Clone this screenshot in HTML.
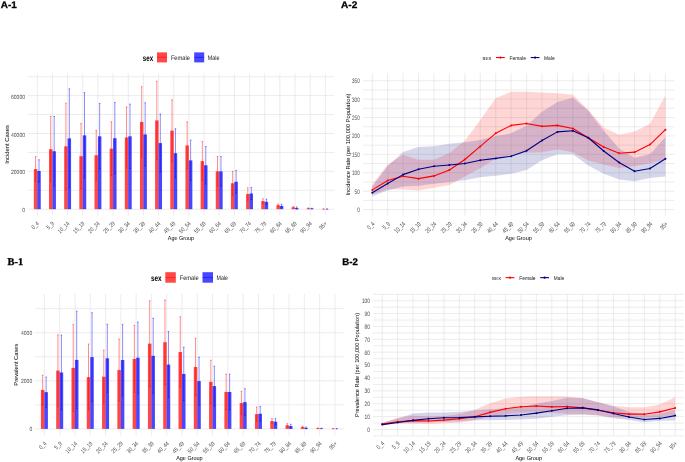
<!DOCTYPE html>
<html><head><meta charset="utf-8"><title>Figure</title>
<style>html,body{margin:0;padding:0;background:#fff;width:685px;height:462px;overflow:hidden}
svg{display:block;filter:blur(0.3px);font-family:"Liberation Sans",sans-serif}</style></head>
<body>
<svg width="685" height="462" viewBox="0 0 685 462" text-rendering="geometricPrecision">
<rect width="685" height="462" fill="#fff"/>
<line x1="27.9" y1="209.2" x2="334.2" y2="209.2" stroke="#E4E4E4" stroke-width="0.7"/>
<line x1="27.9" y1="190.27" x2="334.2" y2="190.27" stroke="#E4E4E4" stroke-width="0.7"/>
<line x1="27.9" y1="171.34" x2="334.2" y2="171.34" stroke="#E4E4E4" stroke-width="0.7"/>
<line x1="27.9" y1="152.41" x2="334.2" y2="152.41" stroke="#E4E4E4" stroke-width="0.7"/>
<line x1="27.9" y1="133.48" x2="334.2" y2="133.48" stroke="#E4E4E4" stroke-width="0.7"/>
<line x1="27.9" y1="114.55" x2="334.2" y2="114.55" stroke="#E4E4E4" stroke-width="0.7"/>
<line x1="27.9" y1="95.62" x2="334.2" y2="95.62" stroke="#E4E4E4" stroke-width="0.7"/>
<line x1="27.9" y1="76.69" x2="334.2" y2="76.69" stroke="#E4E4E4" stroke-width="0.7"/>
<line x1="37.3" y1="73.4" x2="37.3" y2="215.6" stroke="#E4E4E4" stroke-width="0.7"/>
<line x1="52.46" y1="73.4" x2="52.46" y2="215.6" stroke="#E4E4E4" stroke-width="0.7"/>
<line x1="67.62" y1="73.4" x2="67.62" y2="215.6" stroke="#E4E4E4" stroke-width="0.7"/>
<line x1="82.78" y1="73.4" x2="82.78" y2="215.6" stroke="#E4E4E4" stroke-width="0.7"/>
<line x1="97.94" y1="73.4" x2="97.94" y2="215.6" stroke="#E4E4E4" stroke-width="0.7"/>
<line x1="113.1" y1="73.4" x2="113.1" y2="215.6" stroke="#E4E4E4" stroke-width="0.7"/>
<line x1="128.26" y1="73.4" x2="128.26" y2="215.6" stroke="#E4E4E4" stroke-width="0.7"/>
<line x1="143.42" y1="73.4" x2="143.42" y2="215.6" stroke="#E4E4E4" stroke-width="0.7"/>
<line x1="158.58" y1="73.4" x2="158.58" y2="215.6" stroke="#E4E4E4" stroke-width="0.7"/>
<line x1="173.74" y1="73.4" x2="173.74" y2="215.6" stroke="#E4E4E4" stroke-width="0.7"/>
<line x1="188.9" y1="73.4" x2="188.9" y2="215.6" stroke="#E4E4E4" stroke-width="0.7"/>
<line x1="204.06" y1="73.4" x2="204.06" y2="215.6" stroke="#E4E4E4" stroke-width="0.7"/>
<line x1="219.22" y1="73.4" x2="219.22" y2="215.6" stroke="#E4E4E4" stroke-width="0.7"/>
<line x1="234.38" y1="73.4" x2="234.38" y2="215.6" stroke="#E4E4E4" stroke-width="0.7"/>
<line x1="249.54" y1="73.4" x2="249.54" y2="215.6" stroke="#E4E4E4" stroke-width="0.7"/>
<line x1="264.7" y1="73.4" x2="264.7" y2="215.6" stroke="#E4E4E4" stroke-width="0.7"/>
<line x1="279.86" y1="73.4" x2="279.86" y2="215.6" stroke="#E4E4E4" stroke-width="0.7"/>
<line x1="295.02" y1="73.4" x2="295.02" y2="215.6" stroke="#E4E4E4" stroke-width="0.7"/>
<line x1="310.18" y1="73.4" x2="310.18" y2="215.6" stroke="#E4E4E4" stroke-width="0.7"/>
<line x1="325.34" y1="73.4" x2="325.34" y2="215.6" stroke="#E4E4E4" stroke-width="0.7"/>
<rect x="33.85" y="169.07" width="3.45" height="40.13" fill="#FF0000" fill-opacity="0.72"/>
<rect x="37.3" y="170.96" width="3.45" height="38.24" fill="#0000FF" fill-opacity="0.72"/>
<rect x="49.01" y="149.19" width="3.45" height="60.01" fill="#FF0000" fill-opacity="0.72"/>
<rect x="52.46" y="151.27" width="3.45" height="57.93" fill="#0000FF" fill-opacity="0.72"/>
<rect x="64.17" y="146.35" width="3.45" height="62.85" fill="#FF0000" fill-opacity="0.72"/>
<rect x="67.62" y="138.4" width="3.45" height="70.8" fill="#0000FF" fill-opacity="0.72"/>
<rect x="79.33" y="156.2" width="3.45" height="53" fill="#FF0000" fill-opacity="0.72"/>
<rect x="82.78" y="135.37" width="3.45" height="73.83" fill="#0000FF" fill-opacity="0.72"/>
<rect x="94.49" y="155.25" width="3.45" height="53.95" fill="#FF0000" fill-opacity="0.72"/>
<rect x="97.94" y="136.32" width="3.45" height="72.88" fill="#0000FF" fill-opacity="0.72"/>
<rect x="109.65" y="148.62" width="3.45" height="60.58" fill="#FF0000" fill-opacity="0.72"/>
<rect x="113.1" y="138.21" width="3.45" height="70.99" fill="#0000FF" fill-opacity="0.72"/>
<rect x="124.81" y="137.46" width="3.45" height="71.74" fill="#FF0000" fill-opacity="0.72"/>
<rect x="128.26" y="136.32" width="3.45" height="72.88" fill="#0000FF" fill-opacity="0.72"/>
<rect x="139.97" y="121.93" width="3.45" height="87.27" fill="#FF0000" fill-opacity="0.72"/>
<rect x="143.42" y="134.43" width="3.45" height="74.77" fill="#0000FF" fill-opacity="0.72"/>
<rect x="155.13" y="120.42" width="3.45" height="88.78" fill="#FF0000" fill-opacity="0.72"/>
<rect x="158.58" y="143.13" width="3.45" height="66.07" fill="#0000FF" fill-opacity="0.72"/>
<rect x="170.29" y="130.64" width="3.45" height="78.56" fill="#FF0000" fill-opacity="0.72"/>
<rect x="173.74" y="153.17" width="3.45" height="56.03" fill="#0000FF" fill-opacity="0.72"/>
<rect x="185.45" y="145.41" width="3.45" height="63.79" fill="#FF0000" fill-opacity="0.72"/>
<rect x="188.9" y="160.36" width="3.45" height="48.84" fill="#0000FF" fill-opacity="0.72"/>
<rect x="200.61" y="161.12" width="3.45" height="48.08" fill="#FF0000" fill-opacity="0.72"/>
<rect x="204.06" y="165.28" width="3.45" height="43.92" fill="#0000FF" fill-opacity="0.72"/>
<rect x="215.77" y="171.34" width="3.45" height="37.86" fill="#FF0000" fill-opacity="0.72"/>
<rect x="219.22" y="171.34" width="3.45" height="37.86" fill="#0000FF" fill-opacity="0.72"/>
<rect x="230.93" y="183.27" width="3.45" height="25.93" fill="#FF0000" fill-opacity="0.72"/>
<rect x="234.38" y="181.75" width="3.45" height="27.45" fill="#0000FF" fill-opacity="0.72"/>
<rect x="246.09" y="194.06" width="3.45" height="15.14" fill="#FF0000" fill-opacity="0.72"/>
<rect x="249.54" y="193.49" width="3.45" height="15.71" fill="#0000FF" fill-opacity="0.72"/>
<rect x="261.25" y="201.06" width="3.45" height="8.14" fill="#FF0000" fill-opacity="0.72"/>
<rect x="264.7" y="201.82" width="3.45" height="7.38" fill="#0000FF" fill-opacity="0.72"/>
<rect x="276.41" y="205.22" width="3.45" height="3.98" fill="#FF0000" fill-opacity="0.72"/>
<rect x="279.86" y="205.98" width="3.45" height="3.22" fill="#0000FF" fill-opacity="0.72"/>
<rect x="291.57" y="207.31" width="3.45" height="1.89" fill="#FF0000" fill-opacity="0.72"/>
<rect x="295.02" y="208.06" width="3.45" height="1.14" fill="#0000FF" fill-opacity="0.72"/>
<rect x="306.73" y="208.35" width="3.45" height="0.85" fill="#FF0000" fill-opacity="0.72"/>
<rect x="310.18" y="208.54" width="3.45" height="0.66" fill="#0000FF" fill-opacity="0.72"/>
<rect x="321.89" y="209.01" width="3.45" height="0.19" fill="#FF0000" fill-opacity="0.72"/>
<rect x="325.34" y="209.05" width="3.45" height="0.15" fill="#0000FF" fill-opacity="0.72"/>
<g stroke="#FF0000" stroke-opacity="0.75" stroke-width="0.6" fill="none"><path d="M35.57 156.57V181.56M34.77 156.57H36.37M34.77 181.56H36.37"/></g>
<g stroke="#0000FF" stroke-opacity="0.75" stroke-width="0.6" fill="none"><path d="M39.02 159.79V182.13M38.23 159.79H39.82M38.23 182.13H39.82"/></g>
<g stroke="#FF0000" stroke-opacity="0.75" stroke-width="0.6" fill="none"><path d="M50.73 116.44V181.94M49.93 116.44H51.53M49.93 181.94H51.53"/></g>
<g stroke="#0000FF" stroke-opacity="0.75" stroke-width="0.6" fill="none"><path d="M54.18 116.44V186.11M53.38 116.44H54.98M53.38 186.11H54.98"/></g>
<g stroke="#FF0000" stroke-opacity="0.75" stroke-width="0.6" fill="none"><path d="M65.9 103.19V189.51M65.1 103.19H66.7M65.1 189.51H66.7"/></g>
<g stroke="#0000FF" stroke-opacity="0.75" stroke-width="0.6" fill="none"><path d="M69.34 88.81V188M68.55 88.81H70.14M68.55 188H70.14"/></g>
<g stroke="#FF0000" stroke-opacity="0.75" stroke-width="0.6" fill="none"><path d="M81.06 123.64V188.76M80.26 123.64H81.86M80.26 188.76H81.86"/></g>
<g stroke="#0000FF" stroke-opacity="0.75" stroke-width="0.6" fill="none"><path d="M84.5 92.59V178.15M83.7 92.59H85.3M83.7 178.15H85.3"/></g>
<g stroke="#FF0000" stroke-opacity="0.75" stroke-width="0.6" fill="none"><path d="M96.22 130.45V180.05M95.42 130.45H97.02M95.42 180.05H97.02"/></g>
<g stroke="#0000FF" stroke-opacity="0.75" stroke-width="0.6" fill="none"><path d="M99.66 103.57V169.07M98.86 103.57H100.46M98.86 169.07H100.46"/></g>
<g stroke="#FF0000" stroke-opacity="0.75" stroke-width="0.6" fill="none"><path d="M111.38 121.74V175.5M110.58 121.74H112.17M110.58 175.5H112.17"/></g>
<g stroke="#0000FF" stroke-opacity="0.75" stroke-width="0.6" fill="none"><path d="M114.82 102.43V173.99M114.02 102.43H115.62M114.02 173.99H115.62"/></g>
<g stroke="#FF0000" stroke-opacity="0.75" stroke-width="0.6" fill="none"><path d="M126.53 106.98V167.93M125.73 106.98H127.33M125.73 167.93H127.33"/></g>
<g stroke="#0000FF" stroke-opacity="0.75" stroke-width="0.6" fill="none"><path d="M129.98 104.14V168.5M129.18 104.14H130.78M129.18 168.5H130.78"/></g>
<g stroke="#FF0000" stroke-opacity="0.75" stroke-width="0.6" fill="none"><path d="M141.7 86.72V157.14M140.9 86.72H142.5M140.9 157.14H142.5"/></g>
<g stroke="#0000FF" stroke-opacity="0.75" stroke-width="0.6" fill="none"><path d="M145.15 102.81V166.04M144.34 102.81H145.95M144.34 166.04H145.95"/></g>
<g stroke="#FF0000" stroke-opacity="0.75" stroke-width="0.6" fill="none"><path d="M156.85 81.23V159.6M156.05 81.23H157.66M156.05 159.6H157.66"/></g>
<g stroke="#0000FF" stroke-opacity="0.75" stroke-width="0.6" fill="none"><path d="M160.3 113.98V172.29M159.5 113.98H161.1M159.5 172.29H161.1"/></g>
<g stroke="#FF0000" stroke-opacity="0.75" stroke-width="0.6" fill="none"><path d="M172.02 99.78V161.5M171.22 99.78H172.82M171.22 161.5H172.82"/></g>
<g stroke="#0000FF" stroke-opacity="0.75" stroke-width="0.6" fill="none"><path d="M175.47 128.75V177.59M174.66 128.75H176.27M174.66 177.59H176.27"/></g>
<g stroke="#FF0000" stroke-opacity="0.75" stroke-width="0.6" fill="none"><path d="M187.17 121.93V168.88M186.37 121.93H187.97M186.37 168.88H187.97"/></g>
<g stroke="#0000FF" stroke-opacity="0.75" stroke-width="0.6" fill="none"><path d="M190.62 140.11V180.62M189.82 140.11H191.42M189.82 180.62H191.42"/></g>
<g stroke="#FF0000" stroke-opacity="0.75" stroke-width="0.6" fill="none"><path d="M202.34 141.62V180.62M201.53 141.62H203.14M201.53 180.62H203.14"/></g>
<g stroke="#0000FF" stroke-opacity="0.75" stroke-width="0.6" fill="none"><path d="M205.78 146.54V184.02M204.98 146.54H206.59M204.98 184.02H206.59"/></g>
<g stroke="#FF0000" stroke-opacity="0.75" stroke-width="0.6" fill="none"><path d="M217.5 156.57V186.11M216.7 156.57H218.3M216.7 186.11H218.3"/></g>
<g stroke="#0000FF" stroke-opacity="0.75" stroke-width="0.6" fill="none"><path d="M220.95 156.57V186.11M220.15 156.57H221.75M220.15 186.11H221.75"/></g>
<g stroke="#FF0000" stroke-opacity="0.75" stroke-width="0.6" fill="none"><path d="M232.66 171.34V195.19M231.85 171.34H233.46M231.85 195.19H233.46"/></g>
<g stroke="#0000FF" stroke-opacity="0.75" stroke-width="0.6" fill="none"><path d="M236.1 170.39V193.11M235.3 170.39H236.91M235.3 193.11H236.91"/></g>
<g stroke="#FF0000" stroke-opacity="0.75" stroke-width="0.6" fill="none"><path d="M247.82 187.81V200.3M247.02 187.81H248.62M247.02 200.3H248.62"/></g>
<g stroke="#0000FF" stroke-opacity="0.75" stroke-width="0.6" fill="none"><path d="M251.27 187.43V199.55M250.47 187.43H252.07M250.47 199.55H252.07"/></g>
<g stroke="#FF0000" stroke-opacity="0.75" stroke-width="0.6" fill="none"><path d="M262.97 198.79V203.33M262.17 198.79H263.77M262.17 203.33H263.77"/></g>
<g stroke="#0000FF" stroke-opacity="0.75" stroke-width="0.6" fill="none"><path d="M266.43 199.17V204.47M265.62 199.17H267.23M265.62 204.47H267.23"/></g>
<g stroke="#FF0000" stroke-opacity="0.75" stroke-width="0.6" fill="none"><path d="M278.13 204.09V206.36M277.33 204.09H278.94M277.33 206.36H278.94"/></g>
<g stroke="#0000FF" stroke-opacity="0.75" stroke-width="0.6" fill="none"><path d="M281.59 204.28V207.69M280.79 204.28H282.39M280.79 207.69H282.39"/></g>
<g stroke="#FF0000" stroke-opacity="0.75" stroke-width="0.6" fill="none"><path d="M293.3 206.55V208.06M292.5 206.55H294.1M292.5 208.06H294.1"/></g>
<g stroke="#0000FF" stroke-opacity="0.75" stroke-width="0.6" fill="none"><path d="M296.75 206.93V209.2M295.95 206.93H297.55M295.95 209.2H297.55"/></g>
<g stroke="#FF0000" stroke-opacity="0.75" stroke-width="0.6" fill="none"><path d="M308.45 207.87V208.82M307.65 207.87H309.25M307.65 208.82H309.25"/></g>
<g stroke="#0000FF" stroke-opacity="0.75" stroke-width="0.6" fill="none"><path d="M311.91 208.25V208.82M311.11 208.25H312.71M311.11 208.82H312.71"/></g>
<g stroke="#FF0000" stroke-opacity="0.75" stroke-width="0.6" fill="none"><path d="M323.62 208.92V209.11M322.81 208.92H324.42M322.81 209.11H324.42"/></g>
<g stroke="#0000FF" stroke-opacity="0.75" stroke-width="0.6" fill="none"><path d="M327.07 208.97V209.12M326.27 208.97H327.87M326.27 209.12H327.87"/></g>
<text x="25" y="212.35" font-size="6" fill="#4D4D4D" text-anchor="end" font-weight="normal" font-family="Liberation Sans" textLength="2.81" lengthAdjust="spacingAndGlyphs">0</text>
<text x="25" y="174.49" font-size="6" fill="#4D4D4D" text-anchor="end" font-weight="normal" font-family="Liberation Sans" textLength="14.04" lengthAdjust="spacingAndGlyphs">20000</text>
<text x="25" y="136.63" font-size="6" fill="#4D4D4D" text-anchor="end" font-weight="normal" font-family="Liberation Sans" textLength="14.04" lengthAdjust="spacingAndGlyphs">40000</text>
<text x="25" y="98.77" font-size="6" fill="#4D4D4D" text-anchor="end" font-weight="normal" font-family="Liberation Sans" textLength="14.04" lengthAdjust="spacingAndGlyphs">60000</text>
<text x="8.6" y="144.5" font-size="5.8" fill="#000" text-anchor="middle" font-family="Liberation Sans" transform="rotate(-90 8.6 144.5)" textLength="38.6" lengthAdjust="spacingAndGlyphs">Incident Cases</text>
<text x="39.6" y="223.9" font-size="6" fill="#4D4D4D" text-anchor="end" font-family="Liberation Sans" textLength="8.42" lengthAdjust="spacingAndGlyphs" transform="rotate(-45 39.6 223.9)">0_4</text>
<text x="54.76" y="223.9" font-size="6" fill="#4D4D4D" text-anchor="end" font-family="Liberation Sans" textLength="8.42" lengthAdjust="spacingAndGlyphs" transform="rotate(-45 54.76 223.9)">5_9</text>
<text x="69.92" y="223.9" font-size="6" fill="#4D4D4D" text-anchor="end" font-family="Liberation Sans" textLength="14.04" lengthAdjust="spacingAndGlyphs" transform="rotate(-45 69.92 223.9)">10_14</text>
<text x="85.08" y="223.9" font-size="6" fill="#4D4D4D" text-anchor="end" font-family="Liberation Sans" textLength="14.04" lengthAdjust="spacingAndGlyphs" transform="rotate(-45 85.08 223.9)">15_19</text>
<text x="100.24" y="223.9" font-size="6" fill="#4D4D4D" text-anchor="end" font-family="Liberation Sans" textLength="14.04" lengthAdjust="spacingAndGlyphs" transform="rotate(-45 100.24 223.9)">20_24</text>
<text x="115.4" y="223.9" font-size="6" fill="#4D4D4D" text-anchor="end" font-family="Liberation Sans" textLength="14.04" lengthAdjust="spacingAndGlyphs" transform="rotate(-45 115.4 223.9)">25_29</text>
<text x="130.56" y="223.9" font-size="6" fill="#4D4D4D" text-anchor="end" font-family="Liberation Sans" textLength="14.04" lengthAdjust="spacingAndGlyphs" transform="rotate(-45 130.56 223.9)">30_34</text>
<text x="145.72" y="223.9" font-size="6" fill="#4D4D4D" text-anchor="end" font-family="Liberation Sans" textLength="14.04" lengthAdjust="spacingAndGlyphs" transform="rotate(-45 145.72 223.9)">35_39</text>
<text x="160.88" y="223.9" font-size="6" fill="#4D4D4D" text-anchor="end" font-family="Liberation Sans" textLength="14.04" lengthAdjust="spacingAndGlyphs" transform="rotate(-45 160.88 223.9)">40_44</text>
<text x="176.04" y="223.9" font-size="6" fill="#4D4D4D" text-anchor="end" font-family="Liberation Sans" textLength="14.04" lengthAdjust="spacingAndGlyphs" transform="rotate(-45 176.04 223.9)">45_49</text>
<text x="191.2" y="223.9" font-size="6" fill="#4D4D4D" text-anchor="end" font-family="Liberation Sans" textLength="14.04" lengthAdjust="spacingAndGlyphs" transform="rotate(-45 191.2 223.9)">50_54</text>
<text x="206.36" y="223.9" font-size="6" fill="#4D4D4D" text-anchor="end" font-family="Liberation Sans" textLength="14.04" lengthAdjust="spacingAndGlyphs" transform="rotate(-45 206.36 223.9)">55_59</text>
<text x="221.52" y="223.9" font-size="6" fill="#4D4D4D" text-anchor="end" font-family="Liberation Sans" textLength="14.04" lengthAdjust="spacingAndGlyphs" transform="rotate(-45 221.52 223.9)">60_64</text>
<text x="236.68" y="223.9" font-size="6" fill="#4D4D4D" text-anchor="end" font-family="Liberation Sans" textLength="14.04" lengthAdjust="spacingAndGlyphs" transform="rotate(-45 236.68 223.9)">65_69</text>
<text x="251.84" y="223.9" font-size="6" fill="#4D4D4D" text-anchor="end" font-family="Liberation Sans" textLength="14.04" lengthAdjust="spacingAndGlyphs" transform="rotate(-45 251.84 223.9)">70_74</text>
<text x="267" y="223.9" font-size="6" fill="#4D4D4D" text-anchor="end" font-family="Liberation Sans" textLength="14.04" lengthAdjust="spacingAndGlyphs" transform="rotate(-45 267 223.9)">75_79</text>
<text x="282.16" y="223.9" font-size="6" fill="#4D4D4D" text-anchor="end" font-family="Liberation Sans" textLength="14.04" lengthAdjust="spacingAndGlyphs" transform="rotate(-45 282.16 223.9)">80_84</text>
<text x="297.32" y="223.9" font-size="6" fill="#4D4D4D" text-anchor="end" font-family="Liberation Sans" textLength="14.04" lengthAdjust="spacingAndGlyphs" transform="rotate(-45 297.32 223.9)">85_89</text>
<text x="312.48" y="223.9" font-size="6" fill="#4D4D4D" text-anchor="end" font-family="Liberation Sans" textLength="14.04" lengthAdjust="spacingAndGlyphs" transform="rotate(-45 312.48 223.9)">90_94</text>
<text x="327.64" y="223.9" font-size="6" fill="#4D4D4D" text-anchor="end" font-family="Liberation Sans" textLength="8.57" lengthAdjust="spacingAndGlyphs" transform="rotate(-45 327.64 223.9)">95+</text>
<text x="181" y="240" font-size="5.8" fill="#000" text-anchor="middle" font-weight="normal" font-family="Liberation Sans" textLength="26.3" lengthAdjust="spacingAndGlyphs">Age Group</text>
<text x="142.8" y="60.5" font-size="8.5" fill="#000" text-anchor="start" font-weight="bold" font-family="Liberation Sans" textLength="10.3" lengthAdjust="spacingAndGlyphs">sex</text>
<rect x="157" y="52.4" width="10" height="10" fill="#FF0000" fill-opacity="0.72"/>
<line x1="157" y1="57.4" x2="167" y2="57.4" stroke="#FF0000" stroke-width="0.6" stroke-opacity="0.75"/>
<text x="170.9" y="60" font-size="6.4" fill="#1a1a1a" text-anchor="start" font-weight="normal" font-family="Liberation Sans" textLength="19" lengthAdjust="spacingAndGlyphs">Female</text>
<rect x="194.2" y="52.4" width="10" height="10" fill="#0000FF" fill-opacity="0.72"/>
<line x1="194.2" y1="57.4" x2="204.2" y2="57.4" stroke="#0000FF" stroke-width="0.6" stroke-opacity="0.75"/>
<text x="207.8" y="60" font-size="6.4" fill="#1a1a1a" text-anchor="start" font-weight="normal" font-family="Liberation Sans" textLength="11.7" lengthAdjust="spacingAndGlyphs">Male</text>
<line x1="35.1" y1="428.9" x2="344" y2="428.9" stroke="#E4E4E4" stroke-width="0.7"/>
<line x1="35.1" y1="404.85" x2="344" y2="404.85" stroke="#E4E4E4" stroke-width="0.7"/>
<line x1="35.1" y1="380.8" x2="344" y2="380.8" stroke="#E4E4E4" stroke-width="0.7"/>
<line x1="35.1" y1="356.75" x2="344" y2="356.75" stroke="#E4E4E4" stroke-width="0.7"/>
<line x1="35.1" y1="332.7" x2="344" y2="332.7" stroke="#E4E4E4" stroke-width="0.7"/>
<line x1="35.1" y1="308.65" x2="344" y2="308.65" stroke="#E4E4E4" stroke-width="0.7"/>
<line x1="44.4" y1="293.7" x2="44.4" y2="435.5" stroke="#E4E4E4" stroke-width="0.7"/>
<line x1="59.69" y1="293.7" x2="59.69" y2="435.5" stroke="#E4E4E4" stroke-width="0.7"/>
<line x1="74.98" y1="293.7" x2="74.98" y2="435.5" stroke="#E4E4E4" stroke-width="0.7"/>
<line x1="90.27" y1="293.7" x2="90.27" y2="435.5" stroke="#E4E4E4" stroke-width="0.7"/>
<line x1="105.56" y1="293.7" x2="105.56" y2="435.5" stroke="#E4E4E4" stroke-width="0.7"/>
<line x1="120.85" y1="293.7" x2="120.85" y2="435.5" stroke="#E4E4E4" stroke-width="0.7"/>
<line x1="136.14" y1="293.7" x2="136.14" y2="435.5" stroke="#E4E4E4" stroke-width="0.7"/>
<line x1="151.43" y1="293.7" x2="151.43" y2="435.5" stroke="#E4E4E4" stroke-width="0.7"/>
<line x1="166.72" y1="293.7" x2="166.72" y2="435.5" stroke="#E4E4E4" stroke-width="0.7"/>
<line x1="182.01" y1="293.7" x2="182.01" y2="435.5" stroke="#E4E4E4" stroke-width="0.7"/>
<line x1="197.3" y1="293.7" x2="197.3" y2="435.5" stroke="#E4E4E4" stroke-width="0.7"/>
<line x1="212.59" y1="293.7" x2="212.59" y2="435.5" stroke="#E4E4E4" stroke-width="0.7"/>
<line x1="227.88" y1="293.7" x2="227.88" y2="435.5" stroke="#E4E4E4" stroke-width="0.7"/>
<line x1="243.17" y1="293.7" x2="243.17" y2="435.5" stroke="#E4E4E4" stroke-width="0.7"/>
<line x1="258.46" y1="293.7" x2="258.46" y2="435.5" stroke="#E4E4E4" stroke-width="0.7"/>
<line x1="273.75" y1="293.7" x2="273.75" y2="435.5" stroke="#E4E4E4" stroke-width="0.7"/>
<line x1="289.04" y1="293.7" x2="289.04" y2="435.5" stroke="#E4E4E4" stroke-width="0.7"/>
<line x1="304.33" y1="293.7" x2="304.33" y2="435.5" stroke="#E4E4E4" stroke-width="0.7"/>
<line x1="319.62" y1="293.7" x2="319.62" y2="435.5" stroke="#E4E4E4" stroke-width="0.7"/>
<line x1="334.91" y1="293.7" x2="334.91" y2="435.5" stroke="#E4E4E4" stroke-width="0.7"/>
<rect x="40.9" y="389.94" width="3.5" height="38.96" fill="#FF0000" fill-opacity="0.72"/>
<rect x="44.4" y="392.15" width="3.5" height="36.75" fill="#0000FF" fill-opacity="0.72"/>
<rect x="56.19" y="370.58" width="3.5" height="58.32" fill="#FF0000" fill-opacity="0.72"/>
<rect x="59.69" y="372.48" width="3.5" height="56.42" fill="#0000FF" fill-opacity="0.72"/>
<rect x="71.48" y="367.86" width="3.5" height="61.04" fill="#FF0000" fill-opacity="0.72"/>
<rect x="74.98" y="359.92" width="3.5" height="68.98" fill="#0000FF" fill-opacity="0.72"/>
<rect x="86.77" y="377.1" width="3.5" height="51.8" fill="#FF0000" fill-opacity="0.72"/>
<rect x="90.27" y="357.13" width="3.5" height="71.77" fill="#0000FF" fill-opacity="0.72"/>
<rect x="102.06" y="376.71" width="3.5" height="52.19" fill="#FF0000" fill-opacity="0.72"/>
<rect x="105.56" y="358.31" width="3.5" height="70.59" fill="#0000FF" fill-opacity="0.72"/>
<rect x="117.35" y="370.07" width="3.5" height="58.83" fill="#FF0000" fill-opacity="0.72"/>
<rect x="120.85" y="360.04" width="3.5" height="68.86" fill="#0000FF" fill-opacity="0.72"/>
<rect x="132.64" y="358.94" width="3.5" height="69.96" fill="#FF0000" fill-opacity="0.72"/>
<rect x="136.14" y="357.74" width="3.5" height="71.16" fill="#0000FF" fill-opacity="0.72"/>
<rect x="147.93" y="343.69" width="3.5" height="85.21" fill="#FF0000" fill-opacity="0.72"/>
<rect x="151.43" y="355.84" width="3.5" height="73.06" fill="#0000FF" fill-opacity="0.72"/>
<rect x="163.22" y="342.18" width="3.5" height="86.72" fill="#FF0000" fill-opacity="0.72"/>
<rect x="166.72" y="364.57" width="3.5" height="64.33" fill="#0000FF" fill-opacity="0.72"/>
<rect x="178.51" y="352.01" width="3.5" height="76.89" fill="#FF0000" fill-opacity="0.72"/>
<rect x="182.01" y="373.9" width="3.5" height="55" fill="#0000FF" fill-opacity="0.72"/>
<rect x="193.8" y="366.97" width="3.5" height="61.93" fill="#FF0000" fill-opacity="0.72"/>
<rect x="197.3" y="381.11" width="3.5" height="47.79" fill="#0000FF" fill-opacity="0.72"/>
<rect x="209.09" y="381.88" width="3.5" height="47.02" fill="#FF0000" fill-opacity="0.72"/>
<rect x="212.59" y="386.09" width="3.5" height="42.81" fill="#0000FF" fill-opacity="0.72"/>
<rect x="224.38" y="391.96" width="3.5" height="36.94" fill="#FF0000" fill-opacity="0.72"/>
<rect x="227.88" y="391.96" width="3.5" height="36.94" fill="#0000FF" fill-opacity="0.72"/>
<rect x="239.67" y="403.09" width="3.5" height="25.81" fill="#FF0000" fill-opacity="0.72"/>
<rect x="243.17" y="402.11" width="3.5" height="26.79" fill="#0000FF" fill-opacity="0.72"/>
<rect x="254.96" y="414.13" width="3.5" height="14.77" fill="#FF0000" fill-opacity="0.72"/>
<rect x="258.46" y="413.75" width="3.5" height="15.15" fill="#0000FF" fill-opacity="0.72"/>
<rect x="270.25" y="421.06" width="3.5" height="7.84" fill="#FF0000" fill-opacity="0.72"/>
<rect x="273.75" y="421.69" width="3.5" height="7.21" fill="#0000FF" fill-opacity="0.72"/>
<rect x="285.54" y="425.29" width="3.5" height="3.61" fill="#FF0000" fill-opacity="0.72"/>
<rect x="289.04" y="426.09" width="3.5" height="2.81" fill="#0000FF" fill-opacity="0.72"/>
<rect x="300.83" y="427.1" width="3.5" height="1.8" fill="#FF0000" fill-opacity="0.72"/>
<rect x="304.33" y="427.89" width="3.5" height="1.01" fill="#0000FF" fill-opacity="0.72"/>
<rect x="316.12" y="428.3" width="3.5" height="0.6" fill="#FF0000" fill-opacity="0.72"/>
<rect x="319.62" y="428.42" width="3.5" height="0.48" fill="#0000FF" fill-opacity="0.72"/>
<rect x="331.41" y="428.71" width="3.5" height="0.19" fill="#FF0000" fill-opacity="0.72"/>
<rect x="334.91" y="428.76" width="3.5" height="0.14" fill="#0000FF" fill-opacity="0.72"/>
<g stroke="#FF0000" stroke-opacity="0.75" stroke-width="0.6" fill="none"><path d="M42.65 375.2V404.68M41.85 375.2H43.45M41.85 404.68H43.45"/></g>
<g stroke="#0000FF" stroke-opacity="0.75" stroke-width="0.6" fill="none"><path d="M46.15 377.1V407.21M45.35 377.1H46.95M45.35 407.21H46.95"/></g>
<g stroke="#FF0000" stroke-opacity="0.75" stroke-width="0.6" fill="none"><path d="M57.94 334.86V406.29M57.14 334.86H58.74M57.14 406.29H58.74"/></g>
<g stroke="#0000FF" stroke-opacity="0.75" stroke-width="0.6" fill="none"><path d="M61.44 335.11V409.85M60.64 335.11H62.24M60.64 409.85H62.24"/></g>
<g stroke="#FF0000" stroke-opacity="0.75" stroke-width="0.6" fill="none"><path d="M73.23 324.62V411.1M72.43 324.62H74.03M72.43 411.1H74.03"/></g>
<g stroke="#0000FF" stroke-opacity="0.75" stroke-width="0.6" fill="none"><path d="M76.73 311.27V408.58M75.93 311.27H77.53M75.93 408.58H77.53"/></g>
<g stroke="#FF0000" stroke-opacity="0.75" stroke-width="0.6" fill="none"><path d="M88.52 344V410.19M87.72 344H89.32M87.72 410.19H89.32"/></g>
<g stroke="#0000FF" stroke-opacity="0.75" stroke-width="0.6" fill="none"><path d="M92.02 312.76V401.51M91.22 312.76H92.82M91.22 401.51H92.82"/></g>
<g stroke="#FF0000" stroke-opacity="0.75" stroke-width="0.6" fill="none"><path d="M103.81 350.21V403.21M103.01 350.21H104.61M103.01 403.21H104.61"/></g>
<g stroke="#0000FF" stroke-opacity="0.75" stroke-width="0.6" fill="none"><path d="M107.31 324.31V392.32M106.51 324.31H108.11M106.51 392.32H108.11"/></g>
<g stroke="#FF0000" stroke-opacity="0.75" stroke-width="0.6" fill="none"><path d="M119.1 339.07V401.07M118.3 339.07H119.9M118.3 401.07H119.9"/></g>
<g stroke="#0000FF" stroke-opacity="0.75" stroke-width="0.6" fill="none"><path d="M122.6 324.31V395.78M121.8 324.31H123.4M121.8 395.78H123.4"/></g>
<g stroke="#FF0000" stroke-opacity="0.75" stroke-width="0.6" fill="none"><path d="M134.39 325.41V392.46M133.59 325.41H135.19M133.59 392.46H135.19"/></g>
<g stroke="#0000FF" stroke-opacity="0.75" stroke-width="0.6" fill="none"><path d="M137.89 322.09V393.38M137.09 322.09H138.69M137.09 393.38H138.69"/></g>
<g stroke="#FF0000" stroke-opacity="0.75" stroke-width="0.6" fill="none"><path d="M149.68 300.81V386.57M148.88 300.81H150.48M148.88 386.57H150.48"/></g>
<g stroke="#0000FF" stroke-opacity="0.75" stroke-width="0.6" fill="none"><path d="M153.18 318.27V393.4M152.38 318.27H153.98M152.38 393.4H153.98"/></g>
<g stroke="#FF0000" stroke-opacity="0.75" stroke-width="0.6" fill="none"><path d="M164.97 300.02V384.34M164.17 300.02H165.77M164.17 384.34H165.77"/></g>
<g stroke="#0000FF" stroke-opacity="0.75" stroke-width="0.6" fill="none"><path d="M168.47 331.55V397.59M167.67 331.55H169.27M167.67 397.59H169.27"/></g>
<g stroke="#FF0000" stroke-opacity="0.75" stroke-width="0.6" fill="none"><path d="M180.26 316.78V387.25M179.46 316.78H181.06M179.46 387.25H181.06"/></g>
<g stroke="#0000FF" stroke-opacity="0.75" stroke-width="0.6" fill="none"><path d="M183.76 347.2V400.59M182.96 347.2H184.56M182.96 400.59H184.56"/></g>
<g stroke="#FF0000" stroke-opacity="0.75" stroke-width="0.6" fill="none"><path d="M195.55 338.35V395.59M194.75 338.35H196.35M194.75 395.59H196.35"/></g>
<g stroke="#0000FF" stroke-opacity="0.75" stroke-width="0.6" fill="none"><path d="M199.05 357.09V405.14M198.25 357.09H199.85M198.25 405.14H199.85"/></g>
<g stroke="#FF0000" stroke-opacity="0.75" stroke-width="0.6" fill="none"><path d="M210.84 360.24V403.53M210.04 360.24H211.64M210.04 403.53H211.64"/></g>
<g stroke="#0000FF" stroke-opacity="0.75" stroke-width="0.6" fill="none"><path d="M214.34 366.25V405.93M213.54 366.25H215.14M213.54 405.93H215.14"/></g>
<g stroke="#FF0000" stroke-opacity="0.75" stroke-width="0.6" fill="none"><path d="M226.13 374.19V409.73M225.33 374.19H226.93M225.33 409.73H226.93"/></g>
<g stroke="#0000FF" stroke-opacity="0.75" stroke-width="0.6" fill="none"><path d="M229.63 374.19V409.73M228.83 374.19H230.43M228.83 409.73H230.43"/></g>
<g stroke="#FF0000" stroke-opacity="0.75" stroke-width="0.6" fill="none"><path d="M241.42 391.38V414.81M240.62 391.38H242.22M240.62 414.81H242.22"/></g>
<g stroke="#0000FF" stroke-opacity="0.75" stroke-width="0.6" fill="none"><path d="M244.92 388.74V415.48M244.12 388.74H245.72M244.12 415.48H245.72"/></g>
<g stroke="#FF0000" stroke-opacity="0.75" stroke-width="0.6" fill="none"><path d="M256.71 407.11V421.16M255.91 407.11H257.51M255.91 421.16H257.51"/></g>
<g stroke="#0000FF" stroke-opacity="0.75" stroke-width="0.6" fill="none"><path d="M260.21 406.51V420.99M259.41 406.51H261.01M259.41 420.99H261.01"/></g>
<g stroke="#FF0000" stroke-opacity="0.75" stroke-width="0.6" fill="none"><path d="M272 418.65V423.46M271.2 418.65H272.8M271.2 423.46H272.8"/></g>
<g stroke="#0000FF" stroke-opacity="0.75" stroke-width="0.6" fill="none"><path d="M275.5 418.65V424.72M274.7 418.65H276.3M274.7 424.72H276.3"/></g>
<g stroke="#FF0000" stroke-opacity="0.75" stroke-width="0.6" fill="none"><path d="M287.29 423.68V426.9M286.49 423.68H288.09M286.49 426.9H288.09"/></g>
<g stroke="#0000FF" stroke-opacity="0.75" stroke-width="0.6" fill="none"><path d="M290.79 424.28V427.89M289.99 424.28H291.59M289.99 427.89H291.59"/></g>
<g stroke="#FF0000" stroke-opacity="0.75" stroke-width="0.6" fill="none"><path d="M302.58 426.25V427.94M301.78 426.25H303.38M301.78 427.94H303.38"/></g>
<g stroke="#0000FF" stroke-opacity="0.75" stroke-width="0.6" fill="none"><path d="M306.08 426.98V428.8M305.28 426.98H306.88M305.28 428.8H306.88"/></g>
<g stroke="#FF0000" stroke-opacity="0.75" stroke-width="0.6" fill="none"><path d="M317.87 427.94V428.66M317.07 427.94H318.67M317.07 428.66H318.67"/></g>
<g stroke="#0000FF" stroke-opacity="0.75" stroke-width="0.6" fill="none"><path d="M321.37 428.18V428.66M320.57 428.18H322.17M320.57 428.66H322.17"/></g>
<g stroke="#FF0000" stroke-opacity="0.75" stroke-width="0.6" fill="none"><path d="M333.16 428.61V428.8M332.36 428.61H333.96M332.36 428.8H333.96"/></g>
<g stroke="#0000FF" stroke-opacity="0.75" stroke-width="0.6" fill="none"><path d="M336.66 428.66V428.85M335.86 428.66H337.46M335.86 428.85H337.46"/></g>
<text x="32.2" y="431.05" font-size="6" fill="#4D4D4D" text-anchor="end" font-weight="normal" font-family="Liberation Sans" textLength="2.81" lengthAdjust="spacingAndGlyphs">0</text>
<text x="32.2" y="382.95" font-size="6" fill="#4D4D4D" text-anchor="end" font-weight="normal" font-family="Liberation Sans" textLength="11.23" lengthAdjust="spacingAndGlyphs">2000</text>
<text x="32.2" y="334.85" font-size="6" fill="#4D4D4D" text-anchor="end" font-weight="normal" font-family="Liberation Sans" textLength="11.23" lengthAdjust="spacingAndGlyphs">4000</text>
<text x="17.8" y="364.7" font-size="5.8" fill="#000" text-anchor="middle" font-family="Liberation Sans" transform="rotate(-90 17.8 364.7)" textLength="42" lengthAdjust="spacingAndGlyphs">Prevalent Cases</text>
<text x="47.1" y="443.9" font-size="6" fill="#4D4D4D" text-anchor="end" font-family="Liberation Sans" textLength="8.42" lengthAdjust="spacingAndGlyphs" transform="rotate(-45 47.1 443.9)">0_4</text>
<text x="62.39" y="443.9" font-size="6" fill="#4D4D4D" text-anchor="end" font-family="Liberation Sans" textLength="8.42" lengthAdjust="spacingAndGlyphs" transform="rotate(-45 62.39 443.9)">5_9</text>
<text x="77.68" y="443.9" font-size="6" fill="#4D4D4D" text-anchor="end" font-family="Liberation Sans" textLength="14.04" lengthAdjust="spacingAndGlyphs" transform="rotate(-45 77.68 443.9)">10_14</text>
<text x="92.97" y="443.9" font-size="6" fill="#4D4D4D" text-anchor="end" font-family="Liberation Sans" textLength="14.04" lengthAdjust="spacingAndGlyphs" transform="rotate(-45 92.97 443.9)">15_19</text>
<text x="108.26" y="443.9" font-size="6" fill="#4D4D4D" text-anchor="end" font-family="Liberation Sans" textLength="14.04" lengthAdjust="spacingAndGlyphs" transform="rotate(-45 108.26 443.9)">20_24</text>
<text x="123.55" y="443.9" font-size="6" fill="#4D4D4D" text-anchor="end" font-family="Liberation Sans" textLength="14.04" lengthAdjust="spacingAndGlyphs" transform="rotate(-45 123.55 443.9)">25_29</text>
<text x="138.84" y="443.9" font-size="6" fill="#4D4D4D" text-anchor="end" font-family="Liberation Sans" textLength="14.04" lengthAdjust="spacingAndGlyphs" transform="rotate(-45 138.84 443.9)">30_34</text>
<text x="154.13" y="443.9" font-size="6" fill="#4D4D4D" text-anchor="end" font-family="Liberation Sans" textLength="14.04" lengthAdjust="spacingAndGlyphs" transform="rotate(-45 154.13 443.9)">35_39</text>
<text x="169.42" y="443.9" font-size="6" fill="#4D4D4D" text-anchor="end" font-family="Liberation Sans" textLength="14.04" lengthAdjust="spacingAndGlyphs" transform="rotate(-45 169.42 443.9)">40_44</text>
<text x="184.71" y="443.9" font-size="6" fill="#4D4D4D" text-anchor="end" font-family="Liberation Sans" textLength="14.04" lengthAdjust="spacingAndGlyphs" transform="rotate(-45 184.71 443.9)">45_49</text>
<text x="200" y="443.9" font-size="6" fill="#4D4D4D" text-anchor="end" font-family="Liberation Sans" textLength="14.04" lengthAdjust="spacingAndGlyphs" transform="rotate(-45 200 443.9)">50_54</text>
<text x="215.29" y="443.9" font-size="6" fill="#4D4D4D" text-anchor="end" font-family="Liberation Sans" textLength="14.04" lengthAdjust="spacingAndGlyphs" transform="rotate(-45 215.29 443.9)">55_59</text>
<text x="230.58" y="443.9" font-size="6" fill="#4D4D4D" text-anchor="end" font-family="Liberation Sans" textLength="14.04" lengthAdjust="spacingAndGlyphs" transform="rotate(-45 230.58 443.9)">60_64</text>
<text x="245.87" y="443.9" font-size="6" fill="#4D4D4D" text-anchor="end" font-family="Liberation Sans" textLength="14.04" lengthAdjust="spacingAndGlyphs" transform="rotate(-45 245.87 443.9)">65_69</text>
<text x="261.16" y="443.9" font-size="6" fill="#4D4D4D" text-anchor="end" font-family="Liberation Sans" textLength="14.04" lengthAdjust="spacingAndGlyphs" transform="rotate(-45 261.16 443.9)">70_74</text>
<text x="276.45" y="443.9" font-size="6" fill="#4D4D4D" text-anchor="end" font-family="Liberation Sans" textLength="14.04" lengthAdjust="spacingAndGlyphs" transform="rotate(-45 276.45 443.9)">75_79</text>
<text x="291.74" y="443.9" font-size="6" fill="#4D4D4D" text-anchor="end" font-family="Liberation Sans" textLength="14.04" lengthAdjust="spacingAndGlyphs" transform="rotate(-45 291.74 443.9)">80_84</text>
<text x="307.03" y="443.9" font-size="6" fill="#4D4D4D" text-anchor="end" font-family="Liberation Sans" textLength="14.04" lengthAdjust="spacingAndGlyphs" transform="rotate(-45 307.03 443.9)">85_89</text>
<text x="322.32" y="443.9" font-size="6" fill="#4D4D4D" text-anchor="end" font-family="Liberation Sans" textLength="14.04" lengthAdjust="spacingAndGlyphs" transform="rotate(-45 322.32 443.9)">90_94</text>
<text x="337.61" y="443.9" font-size="6" fill="#4D4D4D" text-anchor="end" font-family="Liberation Sans" textLength="8.57" lengthAdjust="spacingAndGlyphs" transform="rotate(-45 337.61 443.9)">95+</text>
<text x="189.4" y="460.2" font-size="5.8" fill="#000" text-anchor="middle" font-weight="normal" font-family="Liberation Sans" textLength="26.5" lengthAdjust="spacingAndGlyphs">Age Group</text>
<text x="151" y="280.55" font-size="8.5" fill="#000" text-anchor="start" font-weight="bold" font-family="Liberation Sans" textLength="10.6" lengthAdjust="spacingAndGlyphs">sex</text>
<rect x="165.3" y="272.2" width="10.5" height="10.5" fill="#FF0000" fill-opacity="0.72"/>
<line x1="165.3" y1="277.45" x2="175.8" y2="277.45" stroke="#FF0000" stroke-width="0.6" stroke-opacity="0.75"/>
<text x="179.7" y="280.05" font-size="6.4" fill="#1a1a1a" text-anchor="start" font-weight="normal" font-family="Liberation Sans" textLength="19" lengthAdjust="spacingAndGlyphs">Female</text>
<rect x="202.5" y="272.2" width="10.5" height="10.5" fill="#0000FF" fill-opacity="0.72"/>
<line x1="202.5" y1="277.45" x2="213" y2="277.45" stroke="#0000FF" stroke-width="0.6" stroke-opacity="0.75"/>
<text x="216.6" y="280.05" font-size="6.4" fill="#1a1a1a" text-anchor="start" font-weight="normal" font-family="Liberation Sans" textLength="11.4" lengthAdjust="spacingAndGlyphs">Male</text>
<line x1="363" y1="209.6" x2="674.5" y2="209.6" stroke="#E4E4E4" stroke-width="0.7"/>
<line x1="363" y1="200.39" x2="674.5" y2="200.39" stroke="#E4E4E4" stroke-width="0.7"/>
<line x1="363" y1="191.19" x2="674.5" y2="191.19" stroke="#E4E4E4" stroke-width="0.7"/>
<line x1="363" y1="181.98" x2="674.5" y2="181.98" stroke="#E4E4E4" stroke-width="0.7"/>
<line x1="363" y1="172.77" x2="674.5" y2="172.77" stroke="#E4E4E4" stroke-width="0.7"/>
<line x1="363" y1="163.56" x2="674.5" y2="163.56" stroke="#E4E4E4" stroke-width="0.7"/>
<line x1="363" y1="154.35" x2="674.5" y2="154.35" stroke="#E4E4E4" stroke-width="0.7"/>
<line x1="363" y1="145.15" x2="674.5" y2="145.15" stroke="#E4E4E4" stroke-width="0.7"/>
<line x1="363" y1="135.94" x2="674.5" y2="135.94" stroke="#E4E4E4" stroke-width="0.7"/>
<line x1="363" y1="126.73" x2="674.5" y2="126.73" stroke="#E4E4E4" stroke-width="0.7"/>
<line x1="363" y1="117.52" x2="674.5" y2="117.52" stroke="#E4E4E4" stroke-width="0.7"/>
<line x1="363" y1="108.32" x2="674.5" y2="108.32" stroke="#E4E4E4" stroke-width="0.7"/>
<line x1="363" y1="99.11" x2="674.5" y2="99.11" stroke="#E4E4E4" stroke-width="0.7"/>
<line x1="363" y1="89.9" x2="674.5" y2="89.9" stroke="#E4E4E4" stroke-width="0.7"/>
<line x1="363" y1="80.69" x2="674.5" y2="80.69" stroke="#E4E4E4" stroke-width="0.7"/>
<line x1="372.25" y1="73" x2="372.25" y2="215.6" stroke="#E4E4E4" stroke-width="0.7"/>
<line x1="387.68" y1="73" x2="387.68" y2="215.6" stroke="#E4E4E4" stroke-width="0.7"/>
<line x1="403.11" y1="73" x2="403.11" y2="215.6" stroke="#E4E4E4" stroke-width="0.7"/>
<line x1="418.54" y1="73" x2="418.54" y2="215.6" stroke="#E4E4E4" stroke-width="0.7"/>
<line x1="433.97" y1="73" x2="433.97" y2="215.6" stroke="#E4E4E4" stroke-width="0.7"/>
<line x1="449.4" y1="73" x2="449.4" y2="215.6" stroke="#E4E4E4" stroke-width="0.7"/>
<line x1="464.83" y1="73" x2="464.83" y2="215.6" stroke="#E4E4E4" stroke-width="0.7"/>
<line x1="480.26" y1="73" x2="480.26" y2="215.6" stroke="#E4E4E4" stroke-width="0.7"/>
<line x1="495.69" y1="73" x2="495.69" y2="215.6" stroke="#E4E4E4" stroke-width="0.7"/>
<line x1="511.12" y1="73" x2="511.12" y2="215.6" stroke="#E4E4E4" stroke-width="0.7"/>
<line x1="526.55" y1="73" x2="526.55" y2="215.6" stroke="#E4E4E4" stroke-width="0.7"/>
<line x1="541.98" y1="73" x2="541.98" y2="215.6" stroke="#E4E4E4" stroke-width="0.7"/>
<line x1="557.41" y1="73" x2="557.41" y2="215.6" stroke="#E4E4E4" stroke-width="0.7"/>
<line x1="572.84" y1="73" x2="572.84" y2="215.6" stroke="#E4E4E4" stroke-width="0.7"/>
<line x1="588.27" y1="73" x2="588.27" y2="215.6" stroke="#E4E4E4" stroke-width="0.7"/>
<line x1="603.7" y1="73" x2="603.7" y2="215.6" stroke="#E4E4E4" stroke-width="0.7"/>
<line x1="619.13" y1="73" x2="619.13" y2="215.6" stroke="#E4E4E4" stroke-width="0.7"/>
<line x1="634.56" y1="73" x2="634.56" y2="215.6" stroke="#E4E4E4" stroke-width="0.7"/>
<line x1="649.99" y1="73" x2="649.99" y2="215.6" stroke="#E4E4E4" stroke-width="0.7"/>
<line x1="665.42" y1="73" x2="665.42" y2="215.6" stroke="#E4E4E4" stroke-width="0.7"/>
<path d="M372.25 184.3 L387.68 164.48 L403.11 154.72 L418.54 159.7 L433.97 159.7 L449.4 152.88 L464.83 140.73 L480.26 120.1 L495.69 98.37 L511.12 91.74 L526.55 91.74 L541.98 92.48 L557.41 93.22 L572.84 94.69 L588.27 109.79 L603.7 127.62 L619.13 134.84 L634.56 131.52 L649.99 123.79 L665.42 95.61 L665.42 159.51 L649.99 163.19 L634.56 166.29 L619.13 168.09 L603.7 164.41 L588.27 160.62 L572.84 152.29 L557.41 149.57 L541.98 152.15 L526.55 152.7 L511.12 155.09 L495.69 158.77 L480.26 168.13 L464.83 176.45 L449.4 184.92 L433.97 187.87 L418.54 190.6 L403.11 189.49 L387.68 189.34 L372.25 194.13Z" fill="#FF0000" fill-opacity="0.16"/>
<path d="M372.25 186.4 L387.68 165.88 L403.11 151.96 L418.54 146.99 L433.97 146.25 L449.4 143.67 L464.83 142.31 L480.26 139.99 L495.69 136.09 L511.12 133.36 L526.55 125.63 L541.98 111.63 L557.41 102.06 L572.84 97.64 L588.27 110.71 L603.7 130.78 L619.13 148.61 L634.56 157.67 L649.99 154.35 L665.42 137.04 L665.42 176.45 L649.99 178 L634.56 181.24 L619.13 179.4 L603.7 173.69 L588.27 165.4 L572.84 154.17 L557.41 154.35 L541.98 160.25 L526.55 170.01 L511.12 173.73 L495.69 175.72 L480.26 177.37 L464.83 180.14 L449.4 181.98 L433.97 183.63 L418.54 185.66 L403.11 186.4 L387.68 190.45 L372.25 196.34Z" fill="#000080" fill-opacity="0.16"/>
<path d="M372.25 189.9 L387.68 180.5 L403.11 176.31 L418.54 178.66 L433.97 175.9 L449.4 169.97 L464.83 159.51 L480.26 146.4 L495.69 133.36 L511.12 125.41 L526.55 123.49 L541.98 126.36 L557.41 125.41 L572.84 128.57 L588.27 137.78 L603.7 146.99 L619.13 153.25 L634.56 152.15 L649.99 144.56 L665.42 129.68" fill="none" stroke="#FF0000" stroke-width="1.1" stroke-linejoin="round"/>
<circle cx="372.25" cy="189.9" r="1.0" fill="#FF0000"/>
<circle cx="387.68" cy="180.5" r="1.0" fill="#FF0000"/>
<circle cx="403.11" cy="176.31" r="1.0" fill="#FF0000"/>
<circle cx="418.54" cy="178.66" r="1.0" fill="#FF0000"/>
<circle cx="433.97" cy="175.9" r="1.0" fill="#FF0000"/>
<circle cx="449.4" cy="169.97" r="1.0" fill="#FF0000"/>
<circle cx="464.83" cy="159.51" r="1.0" fill="#FF0000"/>
<circle cx="480.26" cy="146.4" r="1.0" fill="#FF0000"/>
<circle cx="495.69" cy="133.36" r="1.0" fill="#FF0000"/>
<circle cx="511.12" cy="125.41" r="1.0" fill="#FF0000"/>
<circle cx="526.55" cy="123.49" r="1.0" fill="#FF0000"/>
<circle cx="541.98" cy="126.36" r="1.0" fill="#FF0000"/>
<circle cx="557.41" cy="125.41" r="1.0" fill="#FF0000"/>
<circle cx="572.84" cy="128.57" r="1.0" fill="#FF0000"/>
<circle cx="588.27" cy="137.78" r="1.0" fill="#FF0000"/>
<circle cx="603.7" cy="146.99" r="1.0" fill="#FF0000"/>
<circle cx="619.13" cy="153.25" r="1.0" fill="#FF0000"/>
<circle cx="634.56" cy="152.15" r="1.0" fill="#FF0000"/>
<circle cx="649.99" cy="144.56" r="1.0" fill="#FF0000"/>
<circle cx="665.42" cy="129.68" r="1.0" fill="#FF0000"/>
<path d="M372.25 192.66 L387.68 183.56 L403.11 174.61 L418.54 169.31 L433.97 166.29 L449.4 165.04 L464.83 163.56 L480.26 160.25 L495.69 158.41 L511.12 156.2 L526.55 150.67 L541.98 140.54 L557.41 131.89 L572.84 130.78 L588.27 137.78 L603.7 151.04 L619.13 162.46 L634.56 171.3 L649.99 168.5 L665.42 158.77" fill="none" stroke="#000080" stroke-width="1.1" stroke-linejoin="round"/>
<circle cx="372.25" cy="192.66" r="1.0" fill="#000080"/>
<circle cx="387.68" cy="183.56" r="1.0" fill="#000080"/>
<circle cx="403.11" cy="174.61" r="1.0" fill="#000080"/>
<circle cx="418.54" cy="169.31" r="1.0" fill="#000080"/>
<circle cx="433.97" cy="166.29" r="1.0" fill="#000080"/>
<circle cx="449.4" cy="165.04" r="1.0" fill="#000080"/>
<circle cx="464.83" cy="163.56" r="1.0" fill="#000080"/>
<circle cx="480.26" cy="160.25" r="1.0" fill="#000080"/>
<circle cx="495.69" cy="158.41" r="1.0" fill="#000080"/>
<circle cx="511.12" cy="156.2" r="1.0" fill="#000080"/>
<circle cx="526.55" cy="150.67" r="1.0" fill="#000080"/>
<circle cx="541.98" cy="140.54" r="1.0" fill="#000080"/>
<circle cx="557.41" cy="131.89" r="1.0" fill="#000080"/>
<circle cx="572.84" cy="130.78" r="1.0" fill="#000080"/>
<circle cx="588.27" cy="137.78" r="1.0" fill="#000080"/>
<circle cx="603.7" cy="151.04" r="1.0" fill="#000080"/>
<circle cx="619.13" cy="162.46" r="1.0" fill="#000080"/>
<circle cx="634.56" cy="171.3" r="1.0" fill="#000080"/>
<circle cx="649.99" cy="168.5" r="1.0" fill="#000080"/>
<circle cx="665.42" cy="158.77" r="1.0" fill="#000080"/>
<text x="359.7" y="212.09" font-size="6.4" fill="#4D4D4D" text-anchor="end" font-weight="normal" font-family="Liberation Sans" textLength="2.56" lengthAdjust="spacingAndGlyphs">0</text>
<text x="359.7" y="193.68" font-size="6.4" fill="#4D4D4D" text-anchor="end" font-weight="normal" font-family="Liberation Sans" textLength="5.12" lengthAdjust="spacingAndGlyphs">50</text>
<text x="359.7" y="175.26" font-size="6.4" fill="#4D4D4D" text-anchor="end" font-weight="normal" font-family="Liberation Sans" textLength="7.67" lengthAdjust="spacingAndGlyphs">100</text>
<text x="359.7" y="156.85" font-size="6.4" fill="#4D4D4D" text-anchor="end" font-weight="normal" font-family="Liberation Sans" textLength="7.67" lengthAdjust="spacingAndGlyphs">150</text>
<text x="359.7" y="138.43" font-size="6.4" fill="#4D4D4D" text-anchor="end" font-weight="normal" font-family="Liberation Sans" textLength="7.67" lengthAdjust="spacingAndGlyphs">200</text>
<text x="359.7" y="120.02" font-size="6.4" fill="#4D4D4D" text-anchor="end" font-weight="normal" font-family="Liberation Sans" textLength="7.67" lengthAdjust="spacingAndGlyphs">250</text>
<text x="359.7" y="101.6" font-size="6.4" fill="#4D4D4D" text-anchor="end" font-weight="normal" font-family="Liberation Sans" textLength="7.67" lengthAdjust="spacingAndGlyphs">300</text>
<text x="359.7" y="83.19" font-size="6.4" fill="#4D4D4D" text-anchor="end" font-weight="normal" font-family="Liberation Sans" textLength="7.67" lengthAdjust="spacingAndGlyphs">350</text>
<text x="349.6" y="144.5" font-size="5.8" fill="#000" text-anchor="middle" font-family="Liberation Sans" transform="rotate(-90 349.6 144.5)" textLength="102" lengthAdjust="spacingAndGlyphs">Incidence Rate (per 100,000 Population)</text>
<text x="375.05" y="224.4" font-size="6.4" fill="#4D4D4D" text-anchor="end" font-family="Liberation Sans" textLength="7.67" lengthAdjust="spacingAndGlyphs" transform="rotate(-45 375.05 224.4)">0_4</text>
<text x="390.48" y="224.4" font-size="6.4" fill="#4D4D4D" text-anchor="end" font-family="Liberation Sans" textLength="7.67" lengthAdjust="spacingAndGlyphs" transform="rotate(-45 390.48 224.4)">5_9</text>
<text x="405.91" y="224.4" font-size="6.4" fill="#4D4D4D" text-anchor="end" font-family="Liberation Sans" textLength="12.79" lengthAdjust="spacingAndGlyphs" transform="rotate(-45 405.91 224.4)">10_14</text>
<text x="421.34" y="224.4" font-size="6.4" fill="#4D4D4D" text-anchor="end" font-family="Liberation Sans" textLength="12.79" lengthAdjust="spacingAndGlyphs" transform="rotate(-45 421.34 224.4)">15_19</text>
<text x="436.77" y="224.4" font-size="6.4" fill="#4D4D4D" text-anchor="end" font-family="Liberation Sans" textLength="12.79" lengthAdjust="spacingAndGlyphs" transform="rotate(-45 436.77 224.4)">20_24</text>
<text x="452.2" y="224.4" font-size="6.4" fill="#4D4D4D" text-anchor="end" font-family="Liberation Sans" textLength="12.79" lengthAdjust="spacingAndGlyphs" transform="rotate(-45 452.2 224.4)">25_29</text>
<text x="467.63" y="224.4" font-size="6.4" fill="#4D4D4D" text-anchor="end" font-family="Liberation Sans" textLength="12.79" lengthAdjust="spacingAndGlyphs" transform="rotate(-45 467.63 224.4)">30_34</text>
<text x="483.06" y="224.4" font-size="6.4" fill="#4D4D4D" text-anchor="end" font-family="Liberation Sans" textLength="12.79" lengthAdjust="spacingAndGlyphs" transform="rotate(-45 483.06 224.4)">35_39</text>
<text x="498.49" y="224.4" font-size="6.4" fill="#4D4D4D" text-anchor="end" font-family="Liberation Sans" textLength="12.79" lengthAdjust="spacingAndGlyphs" transform="rotate(-45 498.49 224.4)">40_44</text>
<text x="513.92" y="224.4" font-size="6.4" fill="#4D4D4D" text-anchor="end" font-family="Liberation Sans" textLength="12.79" lengthAdjust="spacingAndGlyphs" transform="rotate(-45 513.92 224.4)">45_49</text>
<text x="529.35" y="224.4" font-size="6.4" fill="#4D4D4D" text-anchor="end" font-family="Liberation Sans" textLength="12.79" lengthAdjust="spacingAndGlyphs" transform="rotate(-45 529.35 224.4)">50_54</text>
<text x="544.78" y="224.4" font-size="6.4" fill="#4D4D4D" text-anchor="end" font-family="Liberation Sans" textLength="12.79" lengthAdjust="spacingAndGlyphs" transform="rotate(-45 544.78 224.4)">55_59</text>
<text x="560.21" y="224.4" font-size="6.4" fill="#4D4D4D" text-anchor="end" font-family="Liberation Sans" textLength="12.79" lengthAdjust="spacingAndGlyphs" transform="rotate(-45 560.21 224.4)">60_64</text>
<text x="575.64" y="224.4" font-size="6.4" fill="#4D4D4D" text-anchor="end" font-family="Liberation Sans" textLength="12.79" lengthAdjust="spacingAndGlyphs" transform="rotate(-45 575.64 224.4)">65_69</text>
<text x="591.07" y="224.4" font-size="6.4" fill="#4D4D4D" text-anchor="end" font-family="Liberation Sans" textLength="12.79" lengthAdjust="spacingAndGlyphs" transform="rotate(-45 591.07 224.4)">70_74</text>
<text x="606.5" y="224.4" font-size="6.4" fill="#4D4D4D" text-anchor="end" font-family="Liberation Sans" textLength="12.79" lengthAdjust="spacingAndGlyphs" transform="rotate(-45 606.5 224.4)">75_79</text>
<text x="621.93" y="224.4" font-size="6.4" fill="#4D4D4D" text-anchor="end" font-family="Liberation Sans" textLength="12.79" lengthAdjust="spacingAndGlyphs" transform="rotate(-45 621.93 224.4)">80_84</text>
<text x="637.36" y="224.4" font-size="6.4" fill="#4D4D4D" text-anchor="end" font-family="Liberation Sans" textLength="12.79" lengthAdjust="spacingAndGlyphs" transform="rotate(-45 637.36 224.4)">85_89</text>
<text x="652.79" y="224.4" font-size="6.4" fill="#4D4D4D" text-anchor="end" font-family="Liberation Sans" textLength="12.79" lengthAdjust="spacingAndGlyphs" transform="rotate(-45 652.79 224.4)">90_94</text>
<text x="668.22" y="224.4" font-size="6.4" fill="#4D4D4D" text-anchor="end" font-family="Liberation Sans" textLength="7.8" lengthAdjust="spacingAndGlyphs" transform="rotate(-45 668.22 224.4)">95+</text>
<text x="518.5" y="240" font-size="5.8" fill="#000" text-anchor="middle" font-weight="normal" font-family="Liberation Sans" textLength="26.6" lengthAdjust="spacingAndGlyphs">Age Group</text>
<text x="482.6" y="59.75" font-size="5.8" fill="#222" text-anchor="start" font-weight="normal" font-family="Liberation Sans" textLength="8.8" lengthAdjust="spacingAndGlyphs">sex</text>
<line x1="496" y1="57.55" x2="504.8" y2="57.55" stroke="#FF0000" stroke-width="1.1"/>
<circle cx="500.4" cy="57.55" r="1.1" fill="#FF0000"/>
<text x="509.6" y="59.65" font-size="5.4" fill="#1a1a1a" text-anchor="start" font-weight="normal" font-family="Liberation Sans" textLength="16.3" lengthAdjust="spacingAndGlyphs">Female</text>
<line x1="530.7" y1="57.55" x2="539.5" y2="57.55" stroke="#000080" stroke-width="1.1"/>
<circle cx="535.1" cy="57.55" r="1.1" fill="#000080"/>
<text x="544" y="59.65" font-size="5.4" fill="#1a1a1a" text-anchor="start" font-weight="normal" font-family="Liberation Sans" textLength="10.6" lengthAdjust="spacingAndGlyphs">Male</text>
<line x1="373" y1="435.94" x2="683.8" y2="435.94" stroke="#E4E4E4" stroke-width="0.7"/>
<line x1="373" y1="429.5" x2="683.8" y2="429.5" stroke="#E4E4E4" stroke-width="0.7"/>
<line x1="373" y1="423.06" x2="683.8" y2="423.06" stroke="#E4E4E4" stroke-width="0.7"/>
<line x1="373" y1="416.62" x2="683.8" y2="416.62" stroke="#E4E4E4" stroke-width="0.7"/>
<line x1="373" y1="410.18" x2="683.8" y2="410.18" stroke="#E4E4E4" stroke-width="0.7"/>
<line x1="373" y1="403.74" x2="683.8" y2="403.74" stroke="#E4E4E4" stroke-width="0.7"/>
<line x1="373" y1="397.3" x2="683.8" y2="397.3" stroke="#E4E4E4" stroke-width="0.7"/>
<line x1="373" y1="390.86" x2="683.8" y2="390.86" stroke="#E4E4E4" stroke-width="0.7"/>
<line x1="373" y1="384.42" x2="683.8" y2="384.42" stroke="#E4E4E4" stroke-width="0.7"/>
<line x1="373" y1="377.98" x2="683.8" y2="377.98" stroke="#E4E4E4" stroke-width="0.7"/>
<line x1="373" y1="371.54" x2="683.8" y2="371.54" stroke="#E4E4E4" stroke-width="0.7"/>
<line x1="373" y1="365.1" x2="683.8" y2="365.1" stroke="#E4E4E4" stroke-width="0.7"/>
<line x1="373" y1="358.66" x2="683.8" y2="358.66" stroke="#E4E4E4" stroke-width="0.7"/>
<line x1="373" y1="352.22" x2="683.8" y2="352.22" stroke="#E4E4E4" stroke-width="0.7"/>
<line x1="373" y1="345.78" x2="683.8" y2="345.78" stroke="#E4E4E4" stroke-width="0.7"/>
<line x1="373" y1="339.34" x2="683.8" y2="339.34" stroke="#E4E4E4" stroke-width="0.7"/>
<line x1="373" y1="332.9" x2="683.8" y2="332.9" stroke="#E4E4E4" stroke-width="0.7"/>
<line x1="373" y1="326.46" x2="683.8" y2="326.46" stroke="#E4E4E4" stroke-width="0.7"/>
<line x1="373" y1="320.02" x2="683.8" y2="320.02" stroke="#E4E4E4" stroke-width="0.7"/>
<line x1="373" y1="313.58" x2="683.8" y2="313.58" stroke="#E4E4E4" stroke-width="0.7"/>
<line x1="373" y1="307.14" x2="683.8" y2="307.14" stroke="#E4E4E4" stroke-width="0.7"/>
<line x1="373" y1="300.7" x2="683.8" y2="300.7" stroke="#E4E4E4" stroke-width="0.7"/>
<line x1="373" y1="294.26" x2="683.8" y2="294.26" stroke="#E4E4E4" stroke-width="0.7"/>
<line x1="382.2" y1="294" x2="382.2" y2="435.9" stroke="#E4E4E4" stroke-width="0.7"/>
<line x1="397.62" y1="294" x2="397.62" y2="435.9" stroke="#E4E4E4" stroke-width="0.7"/>
<line x1="413.04" y1="294" x2="413.04" y2="435.9" stroke="#E4E4E4" stroke-width="0.7"/>
<line x1="428.46" y1="294" x2="428.46" y2="435.9" stroke="#E4E4E4" stroke-width="0.7"/>
<line x1="443.88" y1="294" x2="443.88" y2="435.9" stroke="#E4E4E4" stroke-width="0.7"/>
<line x1="459.3" y1="294" x2="459.3" y2="435.9" stroke="#E4E4E4" stroke-width="0.7"/>
<line x1="474.72" y1="294" x2="474.72" y2="435.9" stroke="#E4E4E4" stroke-width="0.7"/>
<line x1="490.14" y1="294" x2="490.14" y2="435.9" stroke="#E4E4E4" stroke-width="0.7"/>
<line x1="505.56" y1="294" x2="505.56" y2="435.9" stroke="#E4E4E4" stroke-width="0.7"/>
<line x1="520.98" y1="294" x2="520.98" y2="435.9" stroke="#E4E4E4" stroke-width="0.7"/>
<line x1="536.4" y1="294" x2="536.4" y2="435.9" stroke="#E4E4E4" stroke-width="0.7"/>
<line x1="551.82" y1="294" x2="551.82" y2="435.9" stroke="#E4E4E4" stroke-width="0.7"/>
<line x1="567.24" y1="294" x2="567.24" y2="435.9" stroke="#E4E4E4" stroke-width="0.7"/>
<line x1="582.66" y1="294" x2="582.66" y2="435.9" stroke="#E4E4E4" stroke-width="0.7"/>
<line x1="598.08" y1="294" x2="598.08" y2="435.9" stroke="#E4E4E4" stroke-width="0.7"/>
<line x1="613.5" y1="294" x2="613.5" y2="435.9" stroke="#E4E4E4" stroke-width="0.7"/>
<line x1="628.92" y1="294" x2="628.92" y2="435.9" stroke="#E4E4E4" stroke-width="0.7"/>
<line x1="644.34" y1="294" x2="644.34" y2="435.9" stroke="#E4E4E4" stroke-width="0.7"/>
<line x1="659.76" y1="294" x2="659.76" y2="435.9" stroke="#E4E4E4" stroke-width="0.7"/>
<line x1="675.18" y1="294" x2="675.18" y2="435.9" stroke="#E4E4E4" stroke-width="0.7"/>
<path d="M382.2 423.06 L397.62 417.78 L413.04 415.85 L428.46 416.36 L443.88 416.36 L459.3 414.04 L474.72 409.66 L490.14 403.22 L505.56 398.59 L520.98 396.66 L536.4 396.14 L551.82 396.14 L567.24 396.4 L582.66 398.33 L598.08 402.32 L613.5 405.67 L628.92 407.22 L644.34 407.22 L659.76 404.38 L675.18 397.3 L675.18 414.95 L659.76 417.01 L644.34 417.78 L628.92 417.78 L613.5 417.26 L598.08 415.33 L582.66 414.04 L567.24 414.04 L551.82 412.76 L536.4 412.24 L520.98 413.01 L505.56 414.3 L490.14 416.88 L474.72 420.23 L459.3 422.8 L443.88 423.32 L428.46 423.96 L413.04 423.7 L397.62 423.7 L382.2 424.86Z" fill="#FF0000" fill-opacity="0.16"/>
<path d="M382.2 423.06 L397.62 418.42 L413.04 413.53 L428.46 412.5 L443.88 412.5 L459.3 411.73 L474.72 410.44 L490.14 409.28 L505.56 408.38 L520.98 407.09 L536.4 403.74 L551.82 400.91 L567.24 397.69 L582.66 398.07 L598.08 402.32 L613.5 406.32 L628.92 412.11 L644.34 414.95 L659.76 413.53 L675.18 410.05 L675.18 420.48 L659.76 420.87 L644.34 422.29 L628.92 419.97 L613.5 418.17 L598.08 415.59 L582.66 414.82 L567.24 415.2 L551.82 416.75 L536.4 418.81 L520.98 419.58 L505.56 420.1 L490.14 420.23 L474.72 420.23 L459.3 421.13 L443.88 421.77 L428.46 422.16 L413.04 422.42 L397.62 423.06 L382.2 425.38Z" fill="#000080" fill-opacity="0.16"/>
<path d="M382.2 424.09 L397.62 421.77 L413.04 420.61 L428.46 421 L443.88 420.1 L459.3 418.68 L474.72 416.75 L490.14 412.37 L505.56 408.76 L520.98 406.7 L536.4 406.06 L551.82 406.83 L567.24 406.44 L582.66 407.86 L598.08 410.18 L613.5 412.76 L628.92 414.17 L644.34 414.17 L659.76 411.85 L675.18 407.99" fill="none" stroke="#FF0000" stroke-width="1.1" stroke-linejoin="round"/>
<circle cx="382.2" cy="424.09" r="1.0" fill="#FF0000"/>
<circle cx="397.62" cy="421.77" r="1.0" fill="#FF0000"/>
<circle cx="413.04" cy="420.61" r="1.0" fill="#FF0000"/>
<circle cx="428.46" cy="421" r="1.0" fill="#FF0000"/>
<circle cx="443.88" cy="420.1" r="1.0" fill="#FF0000"/>
<circle cx="459.3" cy="418.68" r="1.0" fill="#FF0000"/>
<circle cx="474.72" cy="416.75" r="1.0" fill="#FF0000"/>
<circle cx="490.14" cy="412.37" r="1.0" fill="#FF0000"/>
<circle cx="505.56" cy="408.76" r="1.0" fill="#FF0000"/>
<circle cx="520.98" cy="406.7" r="1.0" fill="#FF0000"/>
<circle cx="536.4" cy="406.06" r="1.0" fill="#FF0000"/>
<circle cx="551.82" cy="406.83" r="1.0" fill="#FF0000"/>
<circle cx="567.24" cy="406.44" r="1.0" fill="#FF0000"/>
<circle cx="582.66" cy="407.86" r="1.0" fill="#FF0000"/>
<circle cx="598.08" cy="410.18" r="1.0" fill="#FF0000"/>
<circle cx="613.5" cy="412.76" r="1.0" fill="#FF0000"/>
<circle cx="628.92" cy="414.17" r="1.0" fill="#FF0000"/>
<circle cx="644.34" cy="414.17" r="1.0" fill="#FF0000"/>
<circle cx="659.76" cy="411.85" r="1.0" fill="#FF0000"/>
<circle cx="675.18" cy="407.99" r="1.0" fill="#FF0000"/>
<path d="M382.2 424.61 L397.62 422.42 L413.04 420.36 L428.46 418.81 L443.88 417.78 L459.3 417.65 L474.72 416.88 L490.14 416.23 L505.56 415.85 L520.98 414.95 L536.4 413.14 L551.82 410.82 L567.24 408.25 L582.66 407.86 L598.08 409.92 L613.5 413.53 L628.92 417.01 L644.34 419.45 L659.76 418.42 L675.18 415.59" fill="none" stroke="#000080" stroke-width="1.1" stroke-linejoin="round"/>
<circle cx="382.2" cy="424.61" r="1.0" fill="#000080"/>
<circle cx="397.62" cy="422.42" r="1.0" fill="#000080"/>
<circle cx="413.04" cy="420.36" r="1.0" fill="#000080"/>
<circle cx="428.46" cy="418.81" r="1.0" fill="#000080"/>
<circle cx="443.88" cy="417.78" r="1.0" fill="#000080"/>
<circle cx="459.3" cy="417.65" r="1.0" fill="#000080"/>
<circle cx="474.72" cy="416.88" r="1.0" fill="#000080"/>
<circle cx="490.14" cy="416.23" r="1.0" fill="#000080"/>
<circle cx="505.56" cy="415.85" r="1.0" fill="#000080"/>
<circle cx="520.98" cy="414.95" r="1.0" fill="#000080"/>
<circle cx="536.4" cy="413.14" r="1.0" fill="#000080"/>
<circle cx="551.82" cy="410.82" r="1.0" fill="#000080"/>
<circle cx="567.24" cy="408.25" r="1.0" fill="#000080"/>
<circle cx="582.66" cy="407.86" r="1.0" fill="#000080"/>
<circle cx="598.08" cy="409.92" r="1.0" fill="#000080"/>
<circle cx="613.5" cy="413.53" r="1.0" fill="#000080"/>
<circle cx="628.92" cy="417.01" r="1.0" fill="#000080"/>
<circle cx="644.34" cy="419.45" r="1.0" fill="#000080"/>
<circle cx="659.76" cy="418.42" r="1.0" fill="#000080"/>
<circle cx="675.18" cy="415.59" r="1.0" fill="#000080"/>
<text x="370" y="431.89" font-size="6.4" fill="#4D4D4D" text-anchor="end" font-weight="normal" font-family="Liberation Sans" textLength="2.7" lengthAdjust="spacingAndGlyphs">0</text>
<text x="370" y="419.01" font-size="6.4" fill="#4D4D4D" text-anchor="end" font-weight="normal" font-family="Liberation Sans" textLength="5.39" lengthAdjust="spacingAndGlyphs">10</text>
<text x="370" y="406.13" font-size="6.4" fill="#4D4D4D" text-anchor="end" font-weight="normal" font-family="Liberation Sans" textLength="5.39" lengthAdjust="spacingAndGlyphs">20</text>
<text x="370" y="393.25" font-size="6.4" fill="#4D4D4D" text-anchor="end" font-weight="normal" font-family="Liberation Sans" textLength="5.39" lengthAdjust="spacingAndGlyphs">30</text>
<text x="370" y="380.37" font-size="6.4" fill="#4D4D4D" text-anchor="end" font-weight="normal" font-family="Liberation Sans" textLength="5.39" lengthAdjust="spacingAndGlyphs">40</text>
<text x="370" y="367.49" font-size="6.4" fill="#4D4D4D" text-anchor="end" font-weight="normal" font-family="Liberation Sans" textLength="5.39" lengthAdjust="spacingAndGlyphs">50</text>
<text x="370" y="354.61" font-size="6.4" fill="#4D4D4D" text-anchor="end" font-weight="normal" font-family="Liberation Sans" textLength="5.39" lengthAdjust="spacingAndGlyphs">60</text>
<text x="370" y="341.73" font-size="6.4" fill="#4D4D4D" text-anchor="end" font-weight="normal" font-family="Liberation Sans" textLength="5.39" lengthAdjust="spacingAndGlyphs">70</text>
<text x="370" y="328.85" font-size="6.4" fill="#4D4D4D" text-anchor="end" font-weight="normal" font-family="Liberation Sans" textLength="5.39" lengthAdjust="spacingAndGlyphs">80</text>
<text x="370" y="315.97" font-size="6.4" fill="#4D4D4D" text-anchor="end" font-weight="normal" font-family="Liberation Sans" textLength="5.39" lengthAdjust="spacingAndGlyphs">90</text>
<text x="370" y="303.09" font-size="6.4" fill="#4D4D4D" text-anchor="end" font-weight="normal" font-family="Liberation Sans" textLength="8.09" lengthAdjust="spacingAndGlyphs">100</text>
<text x="359" y="365" font-size="5.8" fill="#000" text-anchor="middle" font-family="Liberation Sans" transform="rotate(-90 359 365)" textLength="104" lengthAdjust="spacingAndGlyphs">Prevalence Rate (per 100,000 Population)</text>
<text x="384.8" y="443.9" font-size="6.4" fill="#4D4D4D" text-anchor="end" font-family="Liberation Sans" textLength="8.09" lengthAdjust="spacingAndGlyphs" transform="rotate(-45 384.8 443.9)">0_4</text>
<text x="400.22" y="443.9" font-size="6.4" fill="#4D4D4D" text-anchor="end" font-family="Liberation Sans" textLength="8.09" lengthAdjust="spacingAndGlyphs" transform="rotate(-45 400.22 443.9)">5_9</text>
<text x="415.64" y="443.9" font-size="6.4" fill="#4D4D4D" text-anchor="end" font-family="Liberation Sans" textLength="13.49" lengthAdjust="spacingAndGlyphs" transform="rotate(-45 415.64 443.9)">10_14</text>
<text x="431.06" y="443.9" font-size="6.4" fill="#4D4D4D" text-anchor="end" font-family="Liberation Sans" textLength="13.49" lengthAdjust="spacingAndGlyphs" transform="rotate(-45 431.06 443.9)">15_19</text>
<text x="446.48" y="443.9" font-size="6.4" fill="#4D4D4D" text-anchor="end" font-family="Liberation Sans" textLength="13.49" lengthAdjust="spacingAndGlyphs" transform="rotate(-45 446.48 443.9)">20_24</text>
<text x="461.9" y="443.9" font-size="6.4" fill="#4D4D4D" text-anchor="end" font-family="Liberation Sans" textLength="13.49" lengthAdjust="spacingAndGlyphs" transform="rotate(-45 461.9 443.9)">25_29</text>
<text x="477.32" y="443.9" font-size="6.4" fill="#4D4D4D" text-anchor="end" font-family="Liberation Sans" textLength="13.49" lengthAdjust="spacingAndGlyphs" transform="rotate(-45 477.32 443.9)">30_34</text>
<text x="492.74" y="443.9" font-size="6.4" fill="#4D4D4D" text-anchor="end" font-family="Liberation Sans" textLength="13.49" lengthAdjust="spacingAndGlyphs" transform="rotate(-45 492.74 443.9)">35_39</text>
<text x="508.16" y="443.9" font-size="6.4" fill="#4D4D4D" text-anchor="end" font-family="Liberation Sans" textLength="13.49" lengthAdjust="spacingAndGlyphs" transform="rotate(-45 508.16 443.9)">40_44</text>
<text x="523.58" y="443.9" font-size="6.4" fill="#4D4D4D" text-anchor="end" font-family="Liberation Sans" textLength="13.49" lengthAdjust="spacingAndGlyphs" transform="rotate(-45 523.58 443.9)">45_49</text>
<text x="539" y="443.9" font-size="6.4" fill="#4D4D4D" text-anchor="end" font-family="Liberation Sans" textLength="13.49" lengthAdjust="spacingAndGlyphs" transform="rotate(-45 539 443.9)">50_54</text>
<text x="554.42" y="443.9" font-size="6.4" fill="#4D4D4D" text-anchor="end" font-family="Liberation Sans" textLength="13.49" lengthAdjust="spacingAndGlyphs" transform="rotate(-45 554.42 443.9)">55_59</text>
<text x="569.84" y="443.9" font-size="6.4" fill="#4D4D4D" text-anchor="end" font-family="Liberation Sans" textLength="13.49" lengthAdjust="spacingAndGlyphs" transform="rotate(-45 569.84 443.9)">60_64</text>
<text x="585.26" y="443.9" font-size="6.4" fill="#4D4D4D" text-anchor="end" font-family="Liberation Sans" textLength="13.49" lengthAdjust="spacingAndGlyphs" transform="rotate(-45 585.26 443.9)">65_69</text>
<text x="600.68" y="443.9" font-size="6.4" fill="#4D4D4D" text-anchor="end" font-family="Liberation Sans" textLength="13.49" lengthAdjust="spacingAndGlyphs" transform="rotate(-45 600.68 443.9)">70_74</text>
<text x="616.1" y="443.9" font-size="6.4" fill="#4D4D4D" text-anchor="end" font-family="Liberation Sans" textLength="13.49" lengthAdjust="spacingAndGlyphs" transform="rotate(-45 616.1 443.9)">75_79</text>
<text x="631.52" y="443.9" font-size="6.4" fill="#4D4D4D" text-anchor="end" font-family="Liberation Sans" textLength="13.49" lengthAdjust="spacingAndGlyphs" transform="rotate(-45 631.52 443.9)">80_84</text>
<text x="646.94" y="443.9" font-size="6.4" fill="#4D4D4D" text-anchor="end" font-family="Liberation Sans" textLength="13.49" lengthAdjust="spacingAndGlyphs" transform="rotate(-45 646.94 443.9)">85_89</text>
<text x="662.36" y="443.9" font-size="6.4" fill="#4D4D4D" text-anchor="end" font-family="Liberation Sans" textLength="13.49" lengthAdjust="spacingAndGlyphs" transform="rotate(-45 662.36 443.9)">90_94</text>
<text x="677.78" y="443.9" font-size="6.4" fill="#4D4D4D" text-anchor="end" font-family="Liberation Sans" textLength="8.23" lengthAdjust="spacingAndGlyphs" transform="rotate(-45 677.78 443.9)">95+</text>
<text x="528.7" y="460.2" font-size="5.8" fill="#000" text-anchor="middle" font-weight="normal" font-family="Liberation Sans" textLength="26.6" lengthAdjust="spacingAndGlyphs">Age Group</text>
<text x="492.1" y="279.85" font-size="5.8" fill="#222" text-anchor="start" font-weight="normal" font-family="Liberation Sans" textLength="8.9" lengthAdjust="spacingAndGlyphs">sex</text>
<line x1="505.6" y1="277.65" x2="514.4" y2="277.65" stroke="#FF0000" stroke-width="1.1"/>
<circle cx="510" cy="277.65" r="1.1" fill="#FF0000"/>
<text x="519.2" y="279.75" font-size="5.4" fill="#1a1a1a" text-anchor="start" font-weight="normal" font-family="Liberation Sans" textLength="16.3" lengthAdjust="spacingAndGlyphs">Female</text>
<line x1="540.2" y1="277.65" x2="549" y2="277.65" stroke="#000080" stroke-width="1.1"/>
<circle cx="544.6" cy="277.65" r="1.1" fill="#000080"/>
<text x="553.8" y="279.75" font-size="5.4" fill="#1a1a1a" text-anchor="start" font-weight="normal" font-family="Liberation Sans" textLength="10.3" lengthAdjust="spacingAndGlyphs">Male</text>
<text x="0.8" y="8.2" font-size="9.6" fill="#000" text-anchor="start" font-weight="bold" font-family="Liberation Sans" textLength="16" lengthAdjust="spacingAndGlyphs" stroke="#000" stroke-width="0.3">A-1</text>
<text x="341.1" y="8.3" font-size="9.6" fill="#000" text-anchor="start" font-weight="bold" font-family="Liberation Sans" textLength="16.2" lengthAdjust="spacingAndGlyphs" stroke="#000" stroke-width="0.3">A-2</text>
<text x="7.6" y="264.8" font-size="10.3" fill="#000" text-anchor="start" font-weight="bold" font-family="Liberation Serif" textLength="15.6" lengthAdjust="spacingAndGlyphs" stroke="#000" stroke-width="0.3">B-1</text>
<text x="342.3" y="264.8" font-size="9.6" fill="#000" text-anchor="start" font-weight="bold" font-family="Liberation Sans" textLength="15.6" lengthAdjust="spacingAndGlyphs" stroke="#000" stroke-width="0.3">B-2</text>
</svg>
</body></html>
